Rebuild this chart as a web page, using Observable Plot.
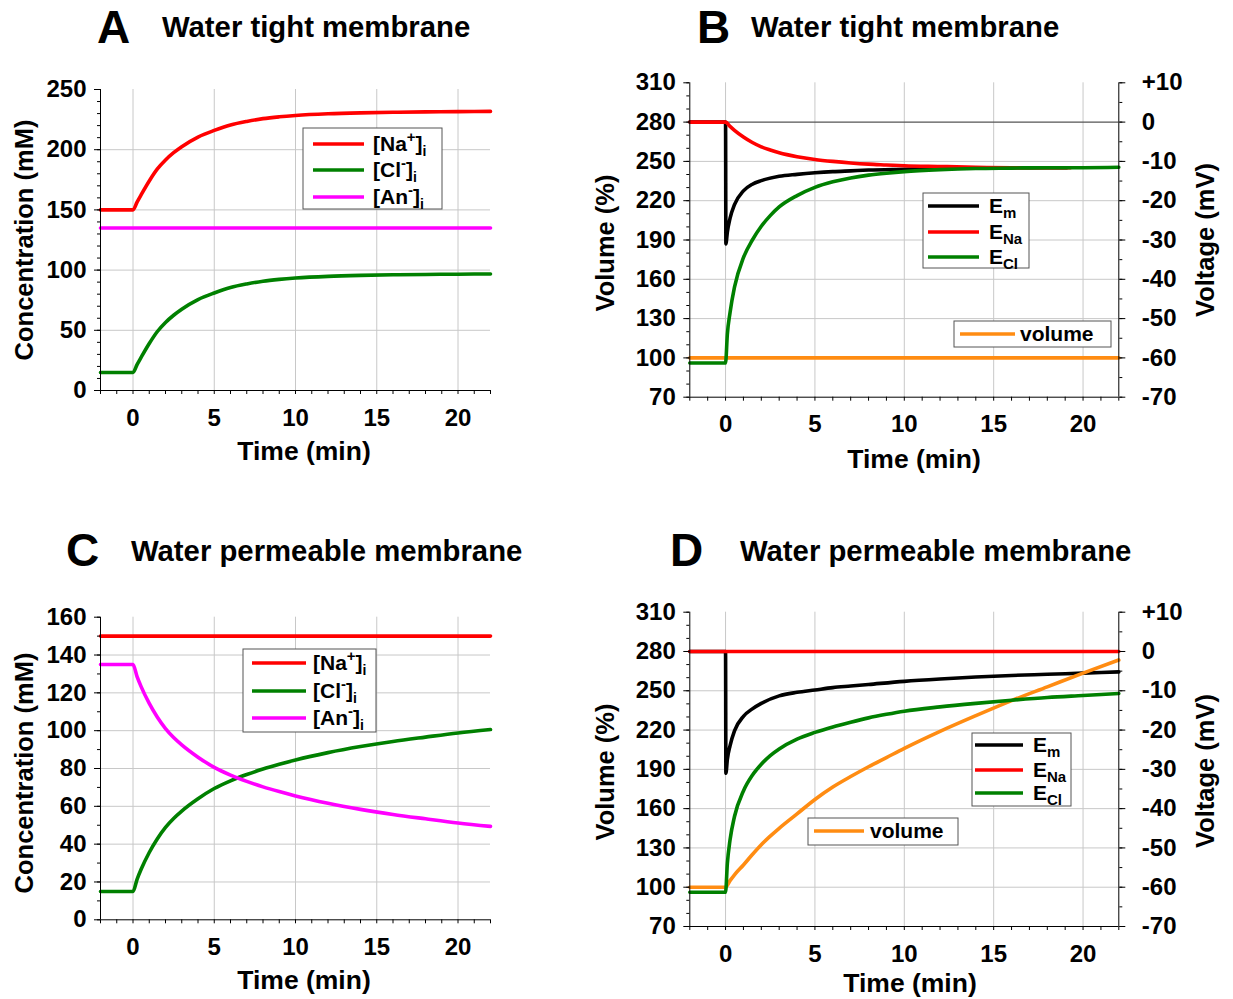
<!DOCTYPE html>
<html><head><meta charset="utf-8">
<script src="https://cdn.jsdelivr.net/npm/d3@7"></script>
<script src="https://cdn.jsdelivr.net/npm/@observablehq/plot@0.6"></script>
<style>
body{margin:0;background:#fff;}
#wrap{position:relative;width:1233px;height:999px;overflow:hidden;background:#fff;}
.panel{position:absolute;}
#overlay{position:absolute;left:0;top:0;}
#overlay text{font-family:"Liberation Sans",Arial,sans-serif;font-weight:bold;fill:#000;}
</style></head><body><div id="wrap"></div>
<script>
// ---------- DATA ----------
// Panel A: water tight membrane, concentrations (mM)
const tA   = [-2,0,0.25,0.5,1,1.5,2,2.5,3,4,5,6,7,8,9,10,12,14,16,18,20,22];
const naA  = [150,150,156.5,162.5,174,184,191.5,197.5,202.5,210.5,216,220.5,223.5,225.8,227.3,228.4,229.8,230.6,231.1,231.4,231.6,231.8];
const clA  = [15,15,21.5,27.5,39,49,56.5,62.5,67.5,75.5,81,85.5,88.5,90.8,92.3,93.4,94.8,95.6,96.1,96.4,96.6,96.8];
const tAnA = [-2,22];
const anA  = [135,135];

// Panel B: water tight membrane, potentials (mV) and volume (%)
const tEnaB = [-2,0,0.25,0.5,1,1.5,2,2.5,3,4,5,6,7,8,9,10,12,14,16,18,19.3];
const enaB  = [0,0,-1.1,-2.1,-3.8,-5.2,-6.3,-7.1,-7.8,-8.8,-9.5,-10.0,-10.4,-10.7,-10.9,-11.1,-11.3,-11.5,-11.6,-11.6,-11.6];
const tEclB = [-2,0,0.1,0.25,0.5,1,1.5,2,2.5,3,4,5,6,7,8,9,10,12,14,16,18,20,22];
const eclB  = [-61.3,-61.3,-54,-48.5,-42,-34.5,-30,-26.5,-23.8,-21.6,-18.7,-16.6,-15.2,-14.2,-13.5,-13.0,-12.6,-12.1,-11.8,-11.7,-11.6,-11.6,-11.5];
const tEmB  = [-2,0,0.02,0.1,0.25,0.5,1,1.5,2,3,4,5,6,7,8,10,12,14,16,19.1];
const emB   = [0,0,-31,-28,-24.5,-21,-17.5,-15.8,-14.9,-13.8,-13.3,-12.9,-12.6,-12.4,-12.2,-12.0,-11.8,-11.7,-11.6,-11.6];
const tVolB = [-2,22];
const volB  = [100,100];

// Panel C: water permeable membrane, concentrations (mM)
const tC   = [-2,0,0.25,0.5,1,1.5,2,2.5,3,4,5,6,7,8,9,10,12,14,16,18,20,22];
const anC  = [135,135,128.6,123.3,114.4,107.1,101.1,96.4,92.5,86,80.6,76.5,73.2,70.3,67.8,65.5,61.6,58.4,55.7,53.4,51.2,49.4];
const clC  = [15,15,21.4,26.7,35.6,42.9,48.9,53.6,57.5,64,69.4,73.5,76.8,79.7,82.2,84.5,88.4,91.6,94.3,96.6,98.8,100.6];
const tNaC = [-2,22];
const naC  = [150,150];

// Panel D: water permeable membrane, potentials (mV) and volume (%)
const tEmD  = [-2,0,0.02,0.1,0.25,0.5,1,1.5,2,3,4,5,6,7,8,10,12,14,16,18,20,22];
const emD   = [0,0,-31,-27.5,-24,-20.2,-16.5,-14.6,-13.2,-11.3,-10.4,-9.8,-9.2,-8.8,-8.4,-7.6,-7.0,-6.5,-6.1,-5.8,-5.5,-5.2];
const tEnaD = [-2,22];
const enaD  = [0,0];
const tEclD = [-2,0,0.1,0.25,0.5,1,1.5,2,2.5,3,4,5,6,7,8,9,10,12,14,16,18,20,22];
const eclD  = [-61.3,-61.3,-54,-48,-42,-35.5,-31.5,-28.7,-26.5,-24.8,-22.3,-20.6,-19.2,-18.0,-16.9,-16.0,-15.2,-14.1,-13.2,-12.4,-11.7,-11.2,-10.7];
const tVolD = [-2,0,0.25,0.5,1,1.5,2,2.5,3,4,5,6,7,8,9,10,12,14,16,18,20,22];
const volD  = [100,100,105,109.5,117,125,132.5,139,145,156,167,176.5,184.5,192,199,206,219,231,242.5,253,263.5,273.5];

// Ticks
const timeTicks   = d3.range(-2, 23, 1);
const timeLabels  = [0,5,10,15,20];
const concMajorA  = [0,50,100,150,200,250];
const concMinorA  = d3.range(0, 251, 10);
const concGridA   = [50,100,150,200];
const concMajorC  = [0,20,40,60,80,100,120,140,160];
const concMinorC  = d3.range(0, 161, 10);
const concGridC   = [20,40,60,80,100,120,140];
const volMajor    = [70,100,130,160,190,220,250,280,310];
const volMinor    = d3.range(70, 311, 10);
const volGrid     = [100,130,160,190,220,250];
const voltMajor   = [10,0,-10,-20,-30,-40,-50,-60,-70];
const voltMinor   = d3.range(-70, 11, 5);

// ---------- COLOURS ----------
const RED="#ff0000", GREEN="#008000", MAG="#ff00ff", ORANGE="#ff8c12", BLACK="#000000", GRID="#c8c8c8";

const pts = (ts, vs) => ts.map((t,i)=>({t, v: vs[i]}));
const mv = v => 280 + 3*v; // voltage (mV) onto the volume (%) axis: 0 mV = 280 %, 10 mV = 30 %
const fmtV = d => { const v = Math.round((d-280)/3); return v>0 ? "+"+v : v<0 ? "-"+Math.abs(v) : "0"; };
const blank = () => "";
const style = {fontFamily:"'Liberation Sans',Arial,sans-serif", fontSize:"24px", fontWeight:"bold", color:"#000", background:"transparent", overflow:"visible"};
const LW = 3.6;

function concPanel(opts){
  return Plot.plot({
    width: 600, height: opts.height,
    marginLeft: 100, marginRight: 110, marginTop: opts.mt, marginBottom: opts.mb,
    x:{domain:[-2,22], label:null}, y:{domain:opts.ydom, label:null},
    style,
    marks:[
      Plot.ruleX(timeLabels,{stroke:GRID, strokeWidth:1}),
      Plot.ruleY(opts.grid,{stroke:GRID, strokeWidth:1}),
      ...opts.lines.map(([d,c]) => Plot.line(d,{x:"t", y:"v", stroke:c, strokeWidth:LW, curve:"monotone-x"})),
      Plot.ruleX([-2],{stroke:BLACK}),
      Plot.ruleY([0],{stroke:BLACK}),
      Plot.axisX({ticks:timeTicks, tickSize:4, tickPadding:14, tickFormat:d=>d%5===0?String(d):"", label:null}),
      Plot.axisY({ticks:opts.major, tickSize:6, tickPadding:8, label:null}),
      Plot.axisY({ticks:opts.minor, tickSize:3, tickFormat:blank, label:null})
    ]
  });
}

function voltPanel(opts){
  return Plot.plot({
    width: 633, height: opts.height,
    marginLeft: 89.3, marginRight: 114.7, marginTop: opts.mt, marginBottom: opts.mb,
    x:{domain:[-2,22], label:null}, y:{domain:[70,310], label:null},
    style,
    marks:[
      Plot.ruleX(timeLabels,{stroke:GRID, strokeWidth:1}),
      Plot.ruleY(volGrid,{stroke:GRID, strokeWidth:1}),
      Plot.ruleY([280],{stroke:"#555", strokeWidth:1.2}),
      ...opts.lines.map(([d,c,isV]) => Plot.line(d,{x:"t", y: isV ? "v" : (r => mv(r.v)), stroke:c, strokeWidth:LW, curve:"monotone-x"})),
      Plot.ruleX([-2],{stroke:BLACK}),
      Plot.ruleX([22],{stroke:BLACK}),
      Plot.ruleY([70],{stroke:BLACK}),
      Plot.axisX({ticks:timeTicks, tickSize:4, tickPadding:14, tickFormat:d=>d%5===0?String(d):"", label:null}),
      Plot.axisY({ticks:volMajor, tickSize:6, tickPadding:8, label:null}),
      Plot.axisY({ticks:volMinor, tickSize:3, tickFormat:blank, label:null}),
      Plot.axisY({anchor:"right", ticks:voltMajor.map(mv), tickSize:6, tickPadding:17, tickFormat:fmtV, label:null}),
      Plot.axisY({anchor:"right", ticks:voltMinor.map(mv), tickSize:3, tickFormat:blank, label:null})
    ]
  });
}

const wrap = document.getElementById("wrap");
function place(el, left, top){
  const d = document.createElement("div"); d.className="panel";
  d.style.left = left+"px"; d.style.top = top+"px";
  d.appendChild(el); wrap.appendChild(d);
}

place(concPanel({height:490, mt:89, mb:100, ydom:[0,250], grid:concGridA, major:concMajorA, minor:concMinorA,
  lines:[[pts(tAnA,anA),MAG],[pts(tA,clA),GREEN],[pts(tA,naA),RED]]}), 0, 0);

place(voltPanel({height:490, mt:82.3, mb:93.3,
  lines:[[pts(tVolB,volB),ORANGE,true],[pts(tEmB,emB),BLACK],[pts(tEnaB,enaB),RED],[pts(tEclB,eclB),GREEN]]}), 600, 0);

place(concPanel({height:499, mt:116.7, mb:79.7, ydom:[0,160], grid:concGridC, major:concMajorC, minor:concMinorC,
  lines:[[pts(tNaC,naC),RED],[pts(tC,clC),GREEN],[pts(tC,anC),MAG]]}), 0, 500);

place(voltPanel({height:499, mt:111.7, mb:73,
  lines:[[pts(tEmD,emD),BLACK],[pts(tEnaD,enaD),RED],[pts(tVolD,volD),ORANGE,true],[pts(tEclD,eclD),GREEN]]}), 600, 500);

// ---------- TEXT OVERLAY: titles, axis titles, legends ----------
const ion = (name, sign, x, y) =>
  `<text x="${x}" y="${y}" font-size="21">[${name}<tspan font-size="15" dy="-9">${sign}</tspan><tspan dy="9">]</tspan><tspan font-size="14" dy="5">i</tspan></text>`;
const pot = (sub, x, y) =>
  `<text x="${x}" y="${y}" font-size="21">E<tspan font-size="15" dy="5">${sub}</tspan></text>`;
const sw = (x1, x2, y, c) => `<line x1="${x1}" x2="${x2}" y1="${y}" y2="${y}" stroke="${c}" stroke-width="3.6"/>`;
const box = (x, y, w, h) => `<rect x="${x}" y="${y}" width="${w}" height="${h}" fill="#fff" stroke="#555" stroke-width="1"/>`;
const vlabel = (t, x, y) => `<text transform="translate(${x},${y}) rotate(-90)" text-anchor="middle" font-size="25.5">${t}</text>`;
const hlabel = (t, x, y) => `<text x="${x}" y="${y}" text-anchor="middle" font-size="26.5">${t}</text>`;
const title = (L, lx, t, tx, ly, ty) => `<text x="${lx}" y="${ly}" font-size="46">${L}</text><text x="${tx}" y="${ty}" font-size="29.3">${t}</text>`;

wrap.insertAdjacentHTML("beforeend", `<svg id="overlay" width="1233" height="999" xmlns="http://www.w3.org/2000/svg">
${title("A",97,"Water tight membrane",162,43,37)}
${title("B",697,"Water tight membrane",751,43,37)}
${title("C",66,"Water permeable membrane",131,566,561)}
${title("D",670,"Water permeable membrane",740,566,561)}
${vlabel("Concentration (mM)",33,240)}
${hlabel("Time (min)",304,460)}
${vlabel("Volume (%)",614,243)}
${vlabel("Voltage (mV)",1214,240)}
${hlabel("Time (min)",914,468)}
${vlabel("Concentration (mM)",33,773)}
${hlabel("Time (min)",304,989)}
${vlabel("Volume (%)",614,772)}
${vlabel("Voltage (mV)",1214,771)}
${hlabel("Time (min)",910,992)}
${box(303,128,139,81)}
${sw(313,364,144,RED)}${ion("Na","+",373,151)}
${sw(313,364,170,GREEN)}${ion("Cl","-",373,177)}
${sw(313,364,197,MAG)}${ion("An","-",373,204)}
${box(243,649,133,83)}
${sw(252,306,663,RED)}${ion("Na","+",313,670)}
${sw(252,306,691,GREEN)}${ion("Cl","-",313,698)}
${sw(252,306,718,MAG)}${ion("An","-",313,725)}
${box(923,193,106,75)}
${sw(928,979,206,BLACK)}${pot("m",989,213)}
${sw(928,979,232,RED)}${pot("Na",989,239)}
${sw(928,979,257,GREEN)}${pot("Cl",989,264)}
${box(954,321,157,26)}
${sw(960,1015,334,ORANGE)}<text x="1020" y="341" font-size="21">volume</text>
${box(972,733,99,73)}
${sw(975,1023,745,BLACK)}${pot("m",1033,752)}
${sw(975,1023,770,RED)}${pot("Na",1033,777)}
${sw(975,1023,793,GREEN)}${pot("Cl",1033,800)}
${box(808,818,150,27)}
${sw(814,864,831,ORANGE)}<text x="870" y="838" font-size="21">volume</text>
</svg>`);
</script></body></html>
